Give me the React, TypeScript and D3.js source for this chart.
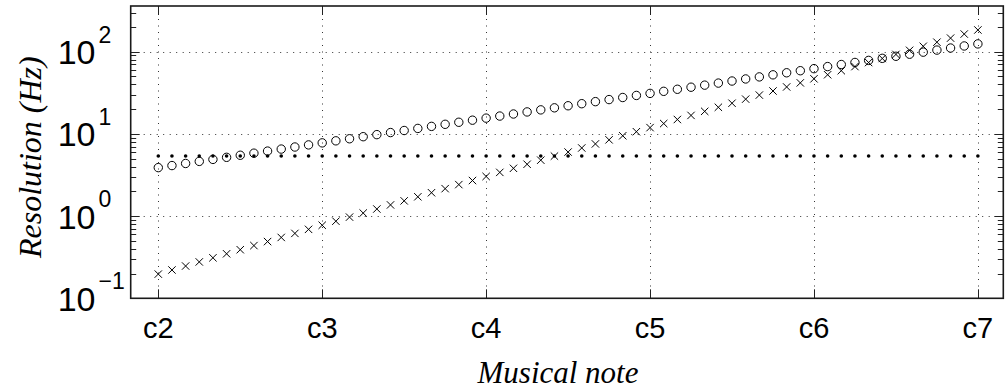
import React, { useEffect, useRef } from 'react';
import * as d3 from 'd3';

// note labels on the x axis, one every octave (12 semitones apart)
const noteLabels = ['c2', 'c3', 'c4', 'c5', 'c6', 'c7'];
const noteSemitones = [0, 12, 24, 36, 48, 60];

// semitone steps from c2 to c7
const semitones = d3.range(0, 61);

// circles: resolution that grows one semitone per step
const circleValues = [
  3.89, 4.12, 4.37, 4.63, 4.9, 5.19, 5.5, 5.83, 6.18, 6.54, 6.93, 7.35,
  7.78, 8.24, 8.73, 9.25, 9.8, 10.39, 11.0, 11.66, 12.35, 13.09, 13.86, 14.69,
  15.56, 16.49, 17.47, 18.51, 19.61, 20.77, 22.01, 23.32, 24.7, 26.17, 27.73, 29.38,
  31.12, 32.97, 34.93, 37.01, 39.21, 41.54, 44.01, 46.63, 49.4, 52.34, 55.45, 58.75,
  62.24, 65.94, 69.86, 74.02, 78.42, 83.08, 88.02, 93.25, 98.8, 104.7, 110.9, 117.5,
  124.5,
];

// crosses
const crossValues = [
  0.197, 0.221, 0.247, 0.277, 0.311, 0.348, 0.39, 0.438, 0.49, 0.55, 0.616, 0.69,
  0.774, 0.867, 0.972, 1.089, 1.22, 1.368, 1.533, 1.718, 1.925, 2.158, 2.418, 2.71,
  3.037, 3.404, 3.815, 4.276, 4.791, 5.37, 6.018, 6.745, 7.558, 8.472, 9.495, 10.64,
  11.93, 13.37, 14.98, 16.79, 18.82, 21.09, 23.63, 26.49, 29.68, 33.27, 37.28, 41.78,
  46.83, 52.48, 58.81, 65.92, 73.87, 82.79, 92.79, 104.0, 116.5, 130.6, 146.4, 164.1,
  183.9,
];

// dots: flat fft bin resolution
const dotValues = [
  5.38, 5.38, 5.38, 5.38, 5.38, 5.38, 5.38, 5.38, 5.38, 5.38, 5.38, 5.38,
  5.38, 5.38, 5.38, 5.38, 5.38, 5.38, 5.38, 5.38, 5.38, 5.38, 5.38, 5.38,
  5.38, 5.38, 5.38, 5.38, 5.38, 5.38, 5.38, 5.38, 5.38, 5.38, 5.38, 5.38,
  5.38, 5.38, 5.38, 5.38, 5.38, 5.38, 5.38, 5.38, 5.38, 5.38, 5.38, 5.38,
  5.38, 5.38, 5.38, 5.38, 5.38, 5.38, 5.38, 5.38, 5.38, 5.38, 5.38, 5.38,
  5.38,
];

// decade exponents for the y tick labels
const yExponents = [-1, 0, 1, 2];

const App = () => {
  const svgRef = useRef<SVGSVGElement>(null);

  useEffect(() => {
    const svg = d3.select(svgRef.current);
    const width = 1007;
    const height = 392;
    const plot = { left: 130.7, right: 1003.3, top: 6, bottom: 298.3 };

    svg.attr('width', width).attr('height', height);

    const x = d3.scaleLinear().domain([-2.02, 61.86]).range([plot.left, plot.right]);
    const y = d3.scaleLog().domain([0.1, 360]).range([plot.bottom, plot.top]);

    const sans = 'Liberation Sans, Arial, Helvetica, sans-serif';
    const serif = 'Liberation Serif, Times New Roman, serif';

    // dotted grid
    const grid = svg.append('g').attr('stroke', '#333').attr('stroke-width', 1)
      .attr('stroke-dasharray', '1,5.5');
    grid.selectAll('line.gx').data(noteSemitones).enter().append('line')
      .attr('x1', (d) => Math.round(x(d)) + 0.5).attr('x2', (d) => Math.round(x(d)) + 0.5)
      .attr('y1', plot.top).attr('y2', plot.bottom);
    grid.selectAll('line.gy').data(yExponents).enter().append('line')
      .attr('y1', (d) => Math.round(y(10 ** d)) + 0.5).attr('y2', (d) => Math.round(y(10 ** d)) + 0.5)
      .attr('x1', plot.left).attr('x2', plot.right);

    // ticks (inward) on all four sides
    const ticks = svg.append('g').attr('stroke', '#222').attr('stroke-width', 1);
    const majorLen = 9;
    const minorLen = 5.5;
    noteSemitones.forEach((s) => {
      const px = Math.round(x(s)) + 0.5;
      ticks.append('line').attr('x1', px).attr('x2', px).attr('y1', plot.bottom).attr('y2', plot.bottom - majorLen);
      ticks.append('line').attr('x1', px).attr('x2', px).attr('y1', plot.top).attr('y2', plot.top + majorLen);
    });
    const minorVals: number[] = [];
    [-1, 0, 1, 2].forEach((e) => {
      for (let m = 2; m <= 9; m++) {
        const v = m * 10 ** e;
        if (v <= 360) minorVals.push(v);
      }
    });
    minorVals.forEach((v) => {
      const py = Math.round(y(v)) + 0.5;
      ticks.append('line').attr('x1', plot.left).attr('x2', plot.left + minorLen).attr('y1', py).attr('y2', py);
      ticks.append('line').attr('x1', plot.right).attr('x2', plot.right - minorLen).attr('y1', py).attr('y2', py);
    });
    yExponents.forEach((e) => {
      const py = Math.round(y(10 ** e)) + 0.5;
      ticks.append('line').attr('x1', plot.left).attr('x2', plot.left + majorLen).attr('y1', py).attr('y2', py);
      ticks.append('line').attr('x1', plot.right).attr('x2', plot.right - majorLen).attr('y1', py).attr('y2', py);
    });

    // frame
    svg.append('rect')
      .attr('x', plot.left).attr('y', plot.top)
      .attr('width', plot.right - plot.left).attr('height', plot.bottom - plot.top)
      .attr('fill', 'none').attr('stroke', '#1a1a1a').attr('stroke-width', 1.6);

    // series: dots
    svg.append('g').selectAll('circle').data(semitones).enter().append('circle')
      .attr('cx', (d) => x(d)).attr('cy', (d) => y(dotValues[d]))
      .attr('r', 1.8).attr('fill', '#000');

    // series: circles
    svg.append('g').selectAll('circle').data(semitones).enter().append('circle')
      .attr('cx', (d) => x(d)).attr('cy', (d) => y(circleValues[d]))
      .attr('r', 4.2).attr('fill', 'none').attr('stroke', '#000').attr('stroke-width', 1);

    // series: crosses
    const cr = 3.7;
    svg.append('g').selectAll('path').data(semitones).enter().append('path')
      .attr('d', (d) => {
        const cx = x(d);
        const cy = y(crossValues[d]);
        return `M${cx - cr},${cy - cr}L${cx + cr},${cy + cr}M${cx - cr},${cy + cr}L${cx + cr},${cy - cr}`;
      })
      .attr('fill', 'none').attr('stroke', '#000').attr('stroke-width', 1);

    // x tick labels
    svg.append('g').selectAll('text').data(noteLabels).enter().append('text')
      .attr('x', (d, i) => x(noteSemitones[i]))
      .attr('y', plot.bottom + 40)
      .attr('text-anchor', 'middle')
      .attr('font-family', sans).attr('font-size', 29)
      .text((d) => d);

    // y tick labels 10^n
    const yl = svg.append('g').attr('font-family', sans);
    yExponents.forEach((e) => {
      const t = yl.append('text')
        .attr('x', plot.left - 73)
        .attr('y', y(10 ** e) + 12.5)
        .attr('font-size', 34);
      t.append('tspan').text('10');
      t.append('tspan').attr('font-size', 23).attr('dx', 3).attr('dy', -21.5)
        .text(e < 0 ? '\u2212' + Math.abs(e) : String(e));
    });

    // axis labels
    svg.append('text')
      .attr('x', 558).attr('y', 383)
      .attr('text-anchor', 'middle')
      .attr('font-family', serif).attr('font-style', 'italic').attr('font-size', 31)
      .text('Musical note');

    svg.append('text')
      .attr('transform', `translate(41, ${(plot.top + plot.bottom) / 2 + 5}) rotate(-90)`)
      .attr('text-anchor', 'middle')
      .attr('font-family', serif).attr('font-style', 'italic').attr('font-size', 32)
      .text('Resolution (Hz)');

    return () => {
      svg.selectAll('*').remove();
    };
  }, []);

  return (
    <svg
      ref={svgRef}
      style={{ position: 'absolute', left: 0, top: 0, background: '#fff' }}
    ></svg>
  );
};

export default App;
